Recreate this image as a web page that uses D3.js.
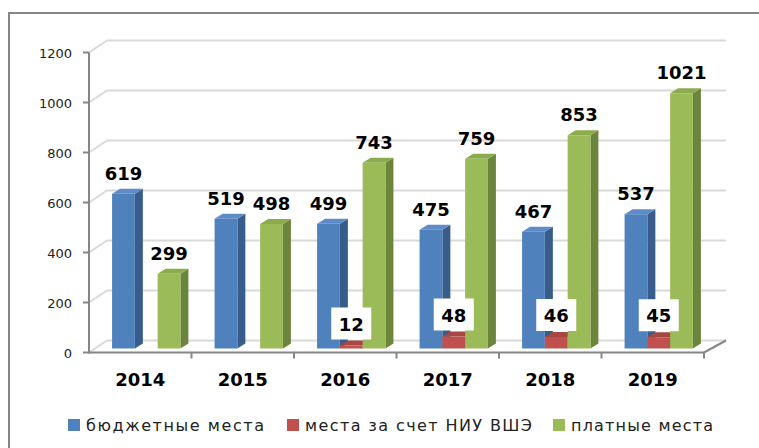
<html>
<head>
  <style>
    body{margin:0;background:#fff}
    .chart text{font-family:"DejaVu Sans",sans-serif}
    .chart .tick-label{font-size:13px;fill:#222}
    .chart .value{font-size:18px;font-weight:bold;fill:#000}
    .chart .cat{font-size:18px;font-weight:bold;fill:#000}
    .chart .legend{font-size:16px;fill:#222}
    .chart .grid{stroke:#d9d9d9;stroke-width:2px;fill:none}
    .chart .axis{stroke:#868686;stroke-width:2px;fill:none}
  </style>
</head>
<body>
<div id="hse-places"></div>
<script src="https://d3js.org/d3.v7.min.js"></script>
<script>
var years   = ['2014', '2015', '2016', '2017', '2018', '2019'];
var budget  = [619, 519, 499, 475, 467, 537];        // бюджетные места
var hse     = [null, null, 12, 48, 46, 45];          // места за счет НИУ ВШЭ
var paid    = [299, 498, 743, 759, 853, 1021];       // платные места
var yTicks  = [0, 200, 400, 600, 800, 1000, 1200];
var seriesNames = ['бюджетные места', 'места за счет НИУ ВШЭ', 'платные места'];

(function () {

  var
    width   = 759,
    height  = 448,
    left    = 89,
    right   = 704,
    bottom  = 352.5,
    top     = 52.5,
    DX      = 18,      // depth of back wall
    DY      = -12,
    BDX     = 6,       // bars sit part way into the depth
    BDY     = -4,
    SDX     = 8,       // bar side / top thickness
    SDY     = -5;

  var colors = [
    {front: '#4f81bd', side: '#385d8a', top: '#5d8cc8'},
    {front: '#c0504d', side: '#8e3a38', top: '#a84643'},
    {front: '#9bbb59', side: '#6c853c', top: '#8cab4c'}
  ];

  var series = [budget, hse, paid];

  var svg = d3.select('#hse-places').append('svg')
    .attr('class', 'chart')
    .attr('width', width)
    .attr('height', height);

  var xScale = d3.scaleBand()
    .domain(years)
    .range([left, right])
    .padding(0);

  var inner = d3.scaleBand()
    .domain([0, 1, 2])
    .range([0, xScale.bandwidth()])
    .paddingInner(0)
    .paddingOuter(0.75);

  var yScale = d3.scaleLinear()
    .domain([0, 1200])
    .range([bottom, top]);

  // frame
  svg.append('rect')
    .attr('x', 9)
    .attr('y', 13)
    .attr('width', 800)
    .attr('height', 500)
    .attr('fill', 'none')
    .attr('stroke', '#868686')
    .attr('stroke-width', 2);

  // back wall gridlines
  var grid = svg.append('g');
  yTicks.forEach(function (t) {
    var y = yScale(t);
    grid.append('path')
      .attr('class', 'grid')
      .attr('d', 'M' + left + ',' + y + 'L' + (left + DX) + ',' + (y + DY) + 'L' + (right + DX + 4) + ',' + (y + DY));
  });

  // floor right edge
  grid.append('path')
    .attr('class', 'axis')
    .attr('stroke-width', 1.5)
    .attr('d', 'M' + right + ',' + bottom + 'L' + (right + DX + 4) + ',' + (bottom + DY));

  // y axis
  var axis = svg.append('g');
  axis.append('line')
    .attr('class', 'axis')
    .attr('x1', left).attr('y1', yScale(0) + 1)
    .attr('x2', left).attr('y2', yScale(1200));

  yTicks.forEach(function (t) {
    axis.append('line')
      .attr('class', 'axis')
      .attr('x1', left - 6).attr('y1', yScale(t))
      .attr('x2', left).attr('y2', yScale(t));
    axis.append('text')
      .attr('class', 'tick-label')
      .attr('x', 72)
      .attr('y', yScale(t) + 5)
      .attr('text-anchor', 'end')
      .text(t);
  });

  // x axis
  axis.append('line')
    .attr('class', 'axis')
    .attr('x1', left).attr('y1', bottom)
    .attr('x2', right).attr('y2', bottom);

  years.forEach(function (yr, i) {
    var xe = xScale(yr) + xScale.bandwidth();
    axis.append('line')
      .attr('class', 'axis')
      .attr('x1', xe).attr('y1', bottom)
      .attr('x2', xe).attr('y2', bottom + 6);
    axis.append('text')
      .attr('class', 'cat')
      .attr('x', xScale(yr) + xScale.bandwidth() / 2)
      .attr('y', 386)
      .attr('text-anchor', 'middle')
      .text(yr);
  });

  // bars
  var bars = svg.append('g'),
      w = inner.bandwidth(),
      y0 = yScale(0) + BDY;

  years.forEach(function (yr, i) {
    series.forEach(function (vals, s) {
      var v = vals[i];
      if (v === null) return;
      var x = xScale(yr) + inner(s) + BDX,
          y = yScale(v) + BDY,
          c = colors[s];
      // side
      bars.append('path')
        .attr('fill', c.side)
        .attr('d', 'M' + (x + w) + ',' + y0 + 'L' + (x + w + SDX) + ',' + (y0 + SDY) +
                   'L' + (x + w + SDX) + ',' + (y + SDY) + 'L' + (x + w) + ',' + y + 'Z');
      // top
      bars.append('path')
        .attr('fill', c.top)
        .attr('d', 'M' + x + ',' + y + 'L' + (x + SDX) + ',' + (y + SDY) +
                   'L' + (x + w + SDX) + ',' + (y + SDY) + 'L' + (x + w) + ',' + y + 'Z');
      // front
      bars.append('rect')
        .attr('x', x)
        .attr('y', y)
        .attr('width', w)
        .attr('height', y0 - y)
        .attr('fill', c.front);
    });
  });

  // value labels
  var labels = svg.append('g');
  years.forEach(function (yr, i) {
    series.forEach(function (vals, s) {
      var v = vals[i];
      if (v === null) return;
      var cx = xScale(yr) + inner(s) + BDX + w / 2,
          y = yScale(v) + BDY;
      if (s === 1) {
        labels.append('rect')
          .attr('x', cx - 20)
          .attr('y', y - 6 - 32)
          .attr('width', 40)
          .attr('height', 32)
          .attr('fill', '#fff');
        labels.append('text')
          .attr('class', 'value')
          .attr('x', cx)
          .attr('y', y - 15)
          .attr('text-anchor', 'middle')
          .text(v);
      } else {
        labels.append('text')
          .attr('class', 'value')
          .attr('x', cx)
          .attr('y', y - 14)
          .attr('text-anchor', 'middle')
          .text(v);
      }
    });
  });

  // legend
  var legend = svg.append('g'),
      lx = [68, 287, 553],
      lw = [178, 227, 142];
  seriesNames.forEach(function (name, s) {
    legend.append('rect')
      .attr('x', lx[s])
      .attr('y', 419)
      .attr('width', 12)
      .attr('height', 12)
      .attr('fill', colors[s].front);
    legend.append('text')
      .attr('class', 'legend')
      .attr('x', lx[s] + 18)
      .attr('y', 431)
      .attr('textLength', lw[s])
      .attr('lengthAdjust', 'spacing')
      .text(name);
  });

})();
</script>
</body>
</html>
